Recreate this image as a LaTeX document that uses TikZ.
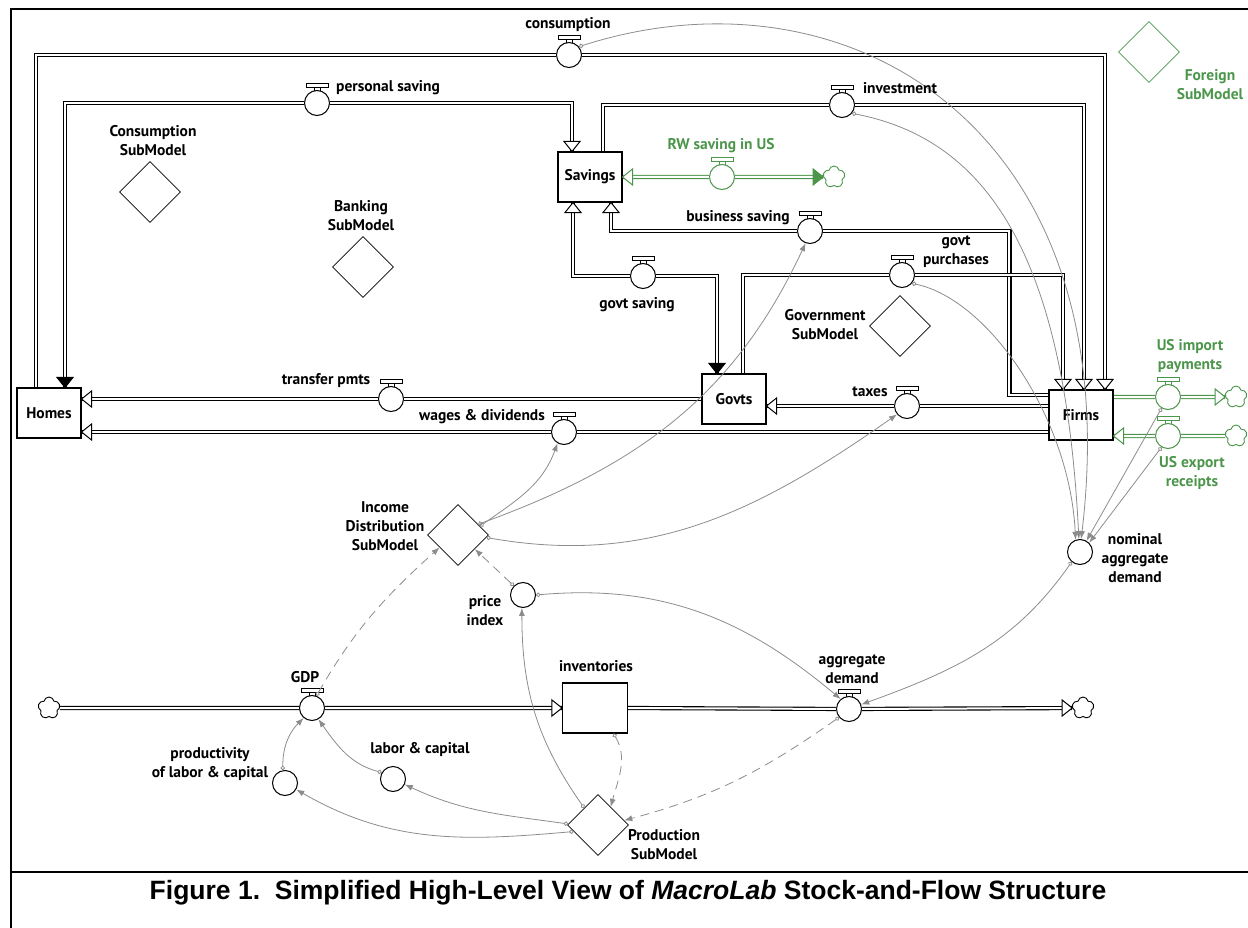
\documentclass[tikz,border=0pt]{standalone}
\usepackage{fontspec}
\usetikzlibrary{shapes.geometric, shapes.symbols, arrows.meta, backgrounds}
\newfontfamily\ptsans{PT Sans}
\newfontfamily\capfont{Liberation Sans}
\newcommand{\lblfont}{\ptsans\bfseries\fontsize{15.5}{19}\selectfont}
\definecolor{fgreen}{RGB}{76,150,76}
\definecolor{linkgray}{RGB}{140,140,140}
\tikzset{
  valvecap/.pic = {
    \draw[line width=0.9pt, fill=white] (-11,16) rectangle (11,19.5);
    \draw[line width=0.9pt] (-3,12) -- (-3,16) (3,12) -- (3,16);
  },
  openhead/.pic = {
    \draw[line width=1pt, fill=white, line join=miter] (0,0) -- (-10,8) -- (-10,-8) -- cycle;
  },
  fullhead/.pic = {
    \draw[line width=1pt, fill, line join=miter] (0,0) -- (-10,8) -- (-10,-8) -- cycle;
  },
  stock/.style = {draw, line width=1.1pt, fill=white, minimum width=64pt, minimum height=50pt, inner sep=0pt, font=\lblfont},
  valve/.style = {circle, draw, line width=1pt, fill=white, minimum size=25pt, inner sep=0pt},
  aux/.style = {valve},
  submodel/.style = {diamond, draw, line width=0.8pt, minimum size=61pt, inner sep=0pt},
  sink/.style = {cloud, cloud puffs=5, cloud puff arc=160, aspect=1, draw, line width=0.9pt, minimum size=22pt, inner sep=0pt, fill=white},
  pipe/.style = {draw, double=white, double distance=2pt, line width=1.1pt},
  link/.style = {draw=linkgray, line width=0.8pt, arrows={Circle[open,length=4.5pt,width=4.5pt]-Latex[length=8pt,width=6pt]}},
  dlink/.style = {link, dash pattern=on 9pt off 6pt},
  lbl/.style = {font=\lblfont, align=center, inner sep=0pt}
}

\begin{document}
\begin{tikzpicture}[x=1pt, y=1pt]
  \useasboundingbox (0,0) rectangle (1248,-928);
  % frame and caption
  \draw[line width=2.6pt] (1248,-9) -- (11,-9) -- (11,-928);
  \draw[line width=2.6pt] (11,-872) -- (1248,-872);
  \node[font=\capfont\bfseries\fontsize{26.5}{30}\selectfont, inner sep=0pt] (caption) at (628,-893)
    {Figure 1.\ \ Simplified High-Level View of \textit{MacroLab} Stock-and-Flow Structure};

  % stocks
  \node[stock] (Homes) at (49,-413) {Homes};
  \node[stock] (Savings) at (590,-177) {Savings};
  \node[stock] (Govts) at (734,-399) {Govts};
  \node[stock] (Firms) at (1081,-415) {Firms};
  \node[stock, minimum width=65pt] (inventories) at (595,-708) {};

  % valves
  \node[valve] (cons) at (569,-55) {};
  \node[valve] (ps) at (317,-103) {};
  \node[valve] (inv) at (842,-105) {};
  \node[valve, draw=fgreen] (rw) at (722,-177) {};
  \node[valve] (bs) at (810,-231) {};
  \node[valve] (gs) at (643,-276) {};
  \node[valve] (gp) at (902,-275) {};
  \node[valve] (tp) at (391,-399) {};
  \node[valve] (tx) at (907,-406) {};
  \node[valve] (wd) at (564,-432) {};
  \node[valve, draw=fgreen] (imp) at (1168,-397) {};
  \node[valve, draw=fgreen] (exp) at (1168,-436) {};
  \node[valve] (gdp) at (312,-708) {};
  \node[valve] (ad) at (849,-709) {};

  % converters
  \node[aux] (nad) at (1080,-552) {};
  \node[aux] (pi) at (523,-595) {};
  \node[aux] (prod) at (285,-783) {};
  \node[aux] (lc) at (393,-779) {};

  % clouds
  \node[sink] (gdpc) at (49,-708) {};
  \node[sink] (adc) at (1083,-708) {};
  \node[sink, draw=fgreen] (rwc) at (834,-177) {};
  \node[sink, draw=fgreen] (impc) at (1236,-397) {};
  \node[sink, draw=fgreen] (expc) at (1236,-436) {};

  % submodels
  \node[submodel] (consumption) at (150,-192) {};
  \node[submodel] (banking) at (363,-267) {};
  \node[submodel] (government) at (900,-326) {};
  \node[submodel] (income) at (458,-535) {};
  \node[submodel] (production) at (598,-825) {};
  \node[submodel, draw=fgreen] (foreign) at (1149,-52) {};

  % pipes
  \begin{scope}[on background layer]
    \draw[pipe] ([xshift=-13pt]Homes.north) |- (cons) -| ([xshift=24pt]Firms.north);
    \draw[pipe] ([xshift=16pt]Homes.north) |- (ps) -| ([xshift=-18pt]Savings.north);
    \draw[pipe] ([xshift=13pt]Savings.north) |- (inv) -| ([xshift=3pt]Firms.north);
    \draw[pipe] ([yshift=20pt]Firms.west) -- ++(-39,0) |- (bs) -| ([xshift=21pt]Savings.south);
    \draw[pipe] ([xshift=-17pt]Savings.south) |- (gs) -| ([xshift=-17pt]Govts.north);
    \draw[pipe] ([xshift=9pt]Govts.north) |- (gp) -| ([xshift=-18pt]Firms.north);
    \draw[pipe] (Govts.west) -- (tp) -- (Homes.east |- tp);
    \draw[pipe] (Firms.west |- wd) -- (wd) -- (Homes.east |- wd);
    \draw[pipe] (Firms.west |- tx) -- (tx) -- (Govts.east |- tx);
    \draw[pipe] (gdpc) -- (gdp) -- (inventories.west);
    \draw[pipe] (inventories.east) -- (ad) -- (adc);
    \draw[pipe, draw=fgreen] (rwc) -- (rw) -- (Savings.east |- rw);
    \draw[pipe, draw=fgreen] (Firms.east |- imp) -- (imp) -- (impc);
    \draw[pipe, draw=fgreen] (expc) -- (exp) -- (Firms.east |- exp);
  \end{scope}

  % pipe heads
  \pic[rotate=-90] at ([xshift=24pt]Firms.north) {openhead};
  \pic[rotate=-90] at ([xshift=3pt]Firms.north) {openhead};
  \pic[rotate=-90] at ([xshift=-18pt]Firms.north) {openhead};
  \pic[rotate=-90] at ([xshift=-18pt]Savings.north) {openhead};
  \pic[rotate=-90] at ([xshift=16pt]Homes.north) {fullhead};
  \pic[rotate=90] at ([xshift=21pt]Savings.south) {openhead};
  \pic[rotate=90] at ([xshift=-17pt]Savings.south) {openhead};
  \pic[rotate=-90] at ([xshift=-17pt]Govts.north) {fullhead};
  \pic[rotate=180] at (Homes.east |- tp) {openhead};
  \pic[rotate=180] at (Homes.east |- wd) {openhead};
  \pic[rotate=180] at (Govts.east |- tx) {openhead};
  \pic at (inventories.west) {openhead};
  \pic at (adc.west) {openhead};
  \pic[rotate=180, fgreen] at (Savings.east |- rw) {openhead};
  \pic[fgreen] at (rwc.west) {fullhead};
  \pic[fgreen] at (impc.west) {openhead};
  \pic[rotate=180, fgreen] at (Firms.east |- exp) {openhead};

  % valve handles
  \pic at (cons) {valvecap};
  \pic at (ps) {valvecap};
  \pic at (inv) {valvecap};
  \pic at (bs) {valvecap};
  \pic at (gs) {valvecap};
  \pic at (gp) {valvecap};
  \pic at (tp) {valvecap};
  \pic at (tx) {valvecap};
  \pic at (wd) {valvecap};
  \pic at (gdp) {valvecap};
  \pic at (ad) {valvecap};
  \pic[fgreen] at (rw) {valvecap};
  \pic[fgreen] at (imp) {valvecap};
  \pic[fgreen] at (exp) {valvecap};

  % connectors
  \draw[link] (cons.40) .. controls (850,40) and (1130,-130) .. (nad.85);
  \draw[link] (inv.-40) .. controls (990,-140) and (1065,-260) .. (nad.95);
  \draw[link] (gp.-40) .. controls (990,-300) and (1070,-420) .. (nad.110);
  \draw[link] (imp.-120) -- (nad.60);
  \draw[link] (exp.-120) -- (nad.45);
  \draw[link] (nad.-130) to[out=235, in=20] (ad.20);
  \draw[link] (income.22) to[out=35, in=250] (wd.-120);
  \draw[link] (income.28) to[out=20, in=245] (bs.-110);
  \draw[link] (income.-5) to[out=-10, in=215] (tx.-140);
  \draw[dlink] (pi.135) -- (income.-40);
  \draw[link] (pi.0) to[out=5, in=140] (ad.130);
  \draw[link] (production.129) to[out=125, in=-90] (pi.-95);
  \draw[link] (production.178) to[out=172, in=-25] (lc.-25);
  \draw[link] (production.195) to[out=185, in=-30] (prod.-30);
  \draw[link] (prod.100) to[out=90, in=-135] (gdp.-130);
  \draw[link] (lc.150) to[out=165, in=-55] (gdp.-60);
  \draw[dlink] (gdp.70) to[out=60, in=222] (income.214);
  \draw[dlink] (inventories.-54) to[out=-60, in=75] (production.55);
  \draw[dlink] (ad.-140) to[out=215, in=15] (production.10);

  % labels
  \node[lbl] (consL) at (568,-25) {consumption};
  \node[lbl] (psL) at (388,-88) {personal saving};
  \node[lbl] (invL) at (900,-88) {investment};
  \node[lbl] (csmL) at (153,-141) {Consumption\\SubModel};
  \node[lbl] (bkL) at (361,-216) {Banking\\SubModel};
  \node[lbl, fgreen] (rwL) at (721,-146) {RW saving in US};
  \node[lbl] (bsL) at (738,-218) {business saving};
  \node[lbl] (gsL) at (637,-305) {govt saving};
  \node[lbl] (gpL) at (956,-252) {govt\\purchases};
  \node[lbl] (gvL) at (825,-325) {Government\\SubModel};
  \node[lbl] (tpL) at (326,-381) {transfer pmts};
  \node[lbl] (wdL) at (482,-417) {wages \& dividends};
  \node[lbl] (txL) at (870,-392) {taxes};
  \node[lbl, fgreen] (impL) at (1190,-356) {US import\\payments};
  \node[lbl, fgreen] (expL) at (1192,-473) {US export\\receipts};
  \node[lbl, fgreen] (fgL) at (1210,-85) {Foreign\\SubModel};
  \node[lbl] (nadL) at (1135,-558) {nominal\\aggregate\\demand};
  \node[lbl] (idL) at (385,-526) {Income\\Distribution\\SubModel};
  \node[lbl] (piL) at (485,-611) {price\\index};
  \node[lbl] (invtL) at (596,-666) {inventories};
  \node[lbl] (adL) at (852,-669) {aggregate\\demand};
  \node[lbl] (gdpL) at (305,-677) {GDP};
  \node[lbl] (prodL) at (210,-764) {productivity\\of labor \& capital};
  \node[lbl] (lcL) at (420,-750) {labor \& capital};
  \node[lbl] (prL) at (664,-845) {Production\\SubModel};
\end{tikzpicture}
\end{document}
